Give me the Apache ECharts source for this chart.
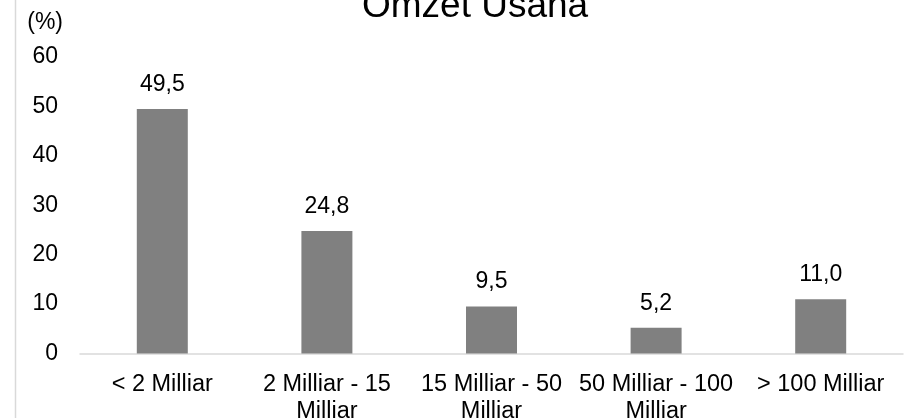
<!DOCTYPE html>
<html>
<head>
<meta charset="utf-8">
<script src="https://cdn.jsdelivr.net/npm/echarts@6/dist/echarts.min.js"></script>
<style>
  html, body { margin: 0; padding: 0; background: #fff; }
  #chart { width: 913px; height: 418px; }
</style>
</head>
<body>
<div id="chart"></div>
<script>
// Omzet Usaha - share of firms by turnover band (%)
const categories = [
  '< 2 Milliar',
  '2 Milliar - 15\nMilliar',
  '15 Milliar - 50\nMilliar',
  '50 Milliar - 100\nMilliar',
  '> 100 Milliar'
];
const shares = [49.5, 24.8, 9.5, 5.2, 11.0];

const FONT = '"Liberation Sans", Arial, sans-serif';
const BAR = '#808080';
const AXIS = '#d9d9d9';

const chart = echarts.init(document.getElementById('chart'));
chart.setOption({
  animation: false,
  backgroundColor: '#ffffff',
  textStyle: { fontFamily: FONT },
  title: {
    text: 'Omzet Usaha',
    left: 357,
    top: -17,
    textStyle: { fontFamily: FONT, fontSize: 37, fontWeight: 'normal', color: '#000' }
  },
  graphic: [{
    type: 'line',
    shape: { x1: 15.5, y1: 0, x2: 15.5, y2: 418 },
    style: { stroke: AXIS, lineWidth: 1.5 },
    silent: true
  }],
  grid: { left: 80, right: 10, top: 57, bottom: 64.5, outerBoundsMode: 'none' },
  xAxis: {
    type: 'category',
    data: categories,
    axisLine: { lineStyle: { color: AXIS, width: 1.5 } },
    axisTick: { show: false },
    axisLabel: {
      fontFamily: FONT, fontSize: 23.5, color: '#000',
      lineHeight: 27, margin: 18, interval: 0
    }
  },
  yAxis: {
    type: 'value',
    min: 0,
    max: 60,
    interval: 10,
    name: '(%)',
    nameLocation: 'end',
    nameGap: 34,
    nameTextStyle: {
      fontFamily: FONT, fontSize: 23, color: '#000',
      align: 'right', verticalAlign: 'middle', padding: [0, 17, 0, 0]
    },
    axisLine: { show: false },
    axisTick: { show: false },
    splitLine: { show: false },
    axisLabel: { fontFamily: FONT, fontSize: 23, color: '#000', margin: 22 }
  },
  series: [{
    type: 'bar',
    data: shares,
    barWidth: 51,
    itemStyle: { color: BAR },
    label: {
      show: true,
      position: 'top',
      distance: 13,
      fontFamily: FONT,
      fontSize: 23,
      color: '#000',
      formatter: p => p.value.toFixed(1).replace('.', ',')
    }
  }]
});
</script>
</body>
</html>
